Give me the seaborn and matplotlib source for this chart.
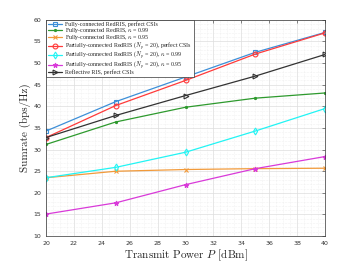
import matplotlib
matplotlib.use("Agg")
import matplotlib.pyplot as plt
import seaborn as sns
import pandas as pd
from matplotlib.ticker import MultipleLocator

power = [20, 25, 30, 35, 40]
fc_perfect = [34.3, 41.1, 46.8, 52.5, 57.1]
fc_k099 = [31.2, 36.4, 39.8, 41.9, 43.1]
fc_k095 = [23.5, 25.0, 25.4, 25.6, 25.7]
pc_perfect = [32.8, 40.2, 46.0, 52.1, 57.0]
pc_k099 = [23.5, 25.9, 29.4, 34.3, 39.5]
pc_k095 = [15.1, 17.7, 21.9, 25.6, 28.4]
ris_perfect = [32.8, 37.9, 42.5, 47.0, 52.0]

labels = [
    "Fully-connected RedRIS, perfect CSIs",
    r"Fully-connected RedRIS, $\kappa$ = 0.99",
    r"Fully-connected RedRIS, $\kappa$ = 0.95",
    r"Partially-connected RedRIS ($N_p$ = 20), perfect CSIs",
    r"Partially-connected RedRIS ($N_p$ = 20), $\kappa$ = 0.99",
    r"Partially-connected RedRIS ($N_p$ = 20), $\kappa$ = 0.95",
    "Reflective RIS, perfect CSIs",
]
series = [fc_perfect, fc_k099, fc_k095, pc_perfect, pc_k099, pc_k095, ris_perfect]
colors = ["#3d8fd8", "#2e9a2e", "#f29a3a", "#ff3a3a", "#22f4f4", "#d93ad9", "#333333"]
markers = ["s", ".", "x", "o", "d", "*", ">"]

rows = []
for lab, vals in zip(labels, series):
    for p, v in zip(power, vals):
        rows.append({"P": p, "rate": v, "scheme": lab})
df = pd.DataFrame(rows)

sns.set_style("white")
plt.rcParams["mathtext.fontset"] = "cm"

fig = plt.figure(figsize=(3.6, 2.65), dpi=100)
ax = fig.add_axes([0.128, 0.109, 0.775, 0.816])

for lab, col, mk in zip(labels, colors, markers):
    sub = df[df["scheme"] == lab]
    sns.lineplot(data=sub, x="P", y="rate", ax=ax, color=col, marker=mk,
                 markersize=3.5 if mk != "." else 3, linewidth=0.9,
                 markerfacecolor="none" if mk in ("s", "o", "d", ">") else col,
                 markeredgecolor=col, markeredgewidth=0.8, label=lab)

ax.set_xlim(20, 40)
ax.set_ylim(10, 60)
ax.xaxis.set_major_locator(MultipleLocator(2))
ax.yaxis.set_major_locator(MultipleLocator(5))
ax.xaxis.set_minor_locator(MultipleLocator(0.5))
ax.yaxis.set_minor_locator(MultipleLocator(1))
ax.grid(True, which="major", color="#dddddd", linewidth=0.5)
ax.grid(True, which="minor", color="#e6e6e6", linewidth=0.4, linestyle=":")
ax.tick_params(axis="both", which="major", labelsize=4.5, colors="#333333",
               direction="in", length=2, width=0.4, top=True, right=True)
ax.tick_params(axis="both", which="minor", length=0)
for s in ax.spines.values():
    s.set_color("#333333")
    s.set_linewidth(0.5)

ax.set_xlabel(r"Transmit Power $P$ [dBm]", fontsize=8, family="cmr10", labelpad=1)
ax.set_ylabel("Sumrate (bps/Hz)", fontsize=8, family="cmr10", labelpad=2)

leg = ax.legend(loc="upper left", frameon=True, fancybox=False,
                borderpad=0.3, labelspacing=-0.25, handlelength=2.4,
                handletextpad=0.5, borderaxespad=0.0,
                prop={"family": "Liberation Serif", "size": 4.3})
leg.get_frame().set_edgecolor("#333333")
leg.get_frame().set_linewidth(0.5)
leg.get_frame().set_alpha(1)

fig.savefig("out.png", dpi=100)
